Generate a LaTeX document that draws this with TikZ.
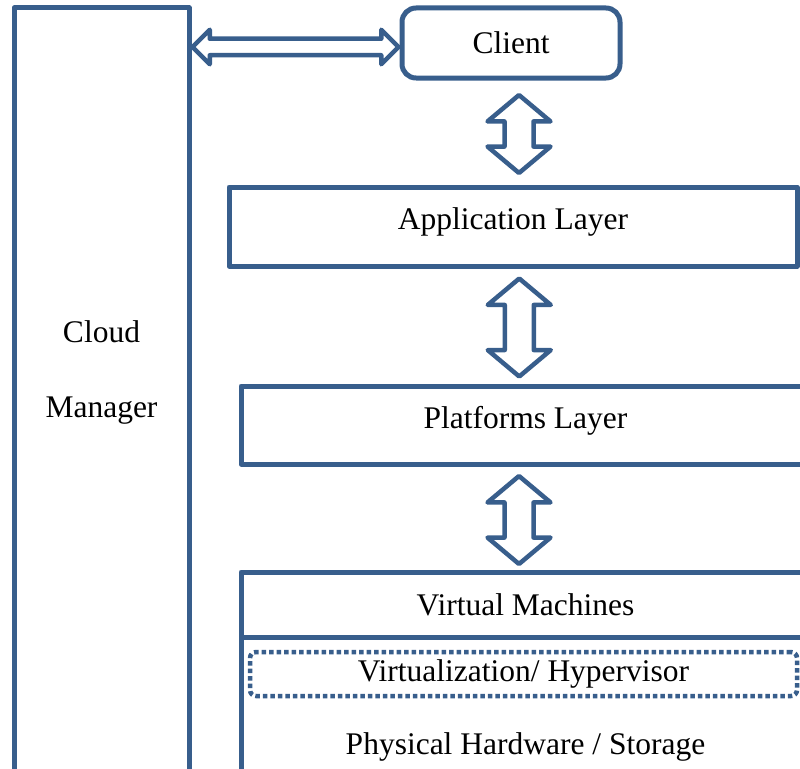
\documentclass[tikz,border=0pt]{standalone}
\usepackage{fontspec}
\setmainfont{Liberation Serif}
\usetikzlibrary{shapes.arrows, positioning, calc}

\definecolor{layerblue}{RGB}{56,94,140}

\tikzset{
  layer/.style={draw=layerblue, line width=5pt, line join=round, fill=white, inner sep=0pt, outer sep=0pt},
  raised/.style={text depth=15pt},
  blockarrow/.style={double arrow, draw=layerblue, line width=4.5pt, line join=round, fill=white,
    inner xsep=0pt, inner ysep=12.25pt, double arrow head extend=17pt, double arrow tip angle=100},
}

\begin{document}
\begin{tikzpicture}[x=1pt, y=-1pt, font=\fontsize{31.5}{38}\selectfont]
    \useasboundingbox (0,0) rectangle (800,768);
    \clip (0,0) rectangle (800,768);

    % Cloud manager column
    \node[layer, minimum width=175pt, minimum height=800pt] (manager) at (101.5,408) {};
    \node[align=center] (managertext) at (101.5,372) {Cloud\\[37pt]Manager};

    % Client and layers
    \node[layer, rounded corners=14pt, minimum width=218pt, minimum height=70pt] (client) at (511,43) {Client};
    \node[layer, raised, minimum width=568pt, minimum height=79pt] (app) at (513,226.5) {Application Layer};
    \node[layer, raised, minimum width=569pt, minimum height=78pt] (platform) at (525.5,425) {Platforms Layer};

    % Infrastructure stack
    \node[layer, minimum width=569pt, minimum height=65pt] (vm) at (525.5,604.5) {Virtual Machines};
    \node[layer, minimum width=569pt, minimum height=163pt, below=0pt of vm] (hardware) {};
    \node[layer, line width=4.5pt, dash pattern=on 4.5pt off 3pt, rounded corners=6pt, fill=none,
      minimum width=547pt, minimum height=44pt] (hypervisor) at (523.5,674) {Virtualization/ Hypervisor};
    \node (storage) at (525.5,747) {Physical Hardware / Storage};

    % Block arrows
    \node[blockarrow, minimum height=206pt, inner ysep=6pt, double arrow head extend=9pt,
      double arrow tip angle=90] (managerlink) at ($(manager.east |- client.west)!0.5!(client.west) + (0,4)$) {};
    \node[blockarrow, rotate=90, minimum height=78pt] (clientlink) at ($(client.south)!0.5!(app.north) + (7,1.5)$) {};
    \node[blockarrow, rotate=90, minimum height=98pt] (applink) at ($(app.south)!0.5!(platform.north) + (0,1.5)$) {};
    \node[blockarrow, rotate=90, minimum height=88pt] (platformlink) at ($(platform.south)!0.5!(vm.north) + (-6.5,2)$) {};
\end{tikzpicture}
\end{document}
